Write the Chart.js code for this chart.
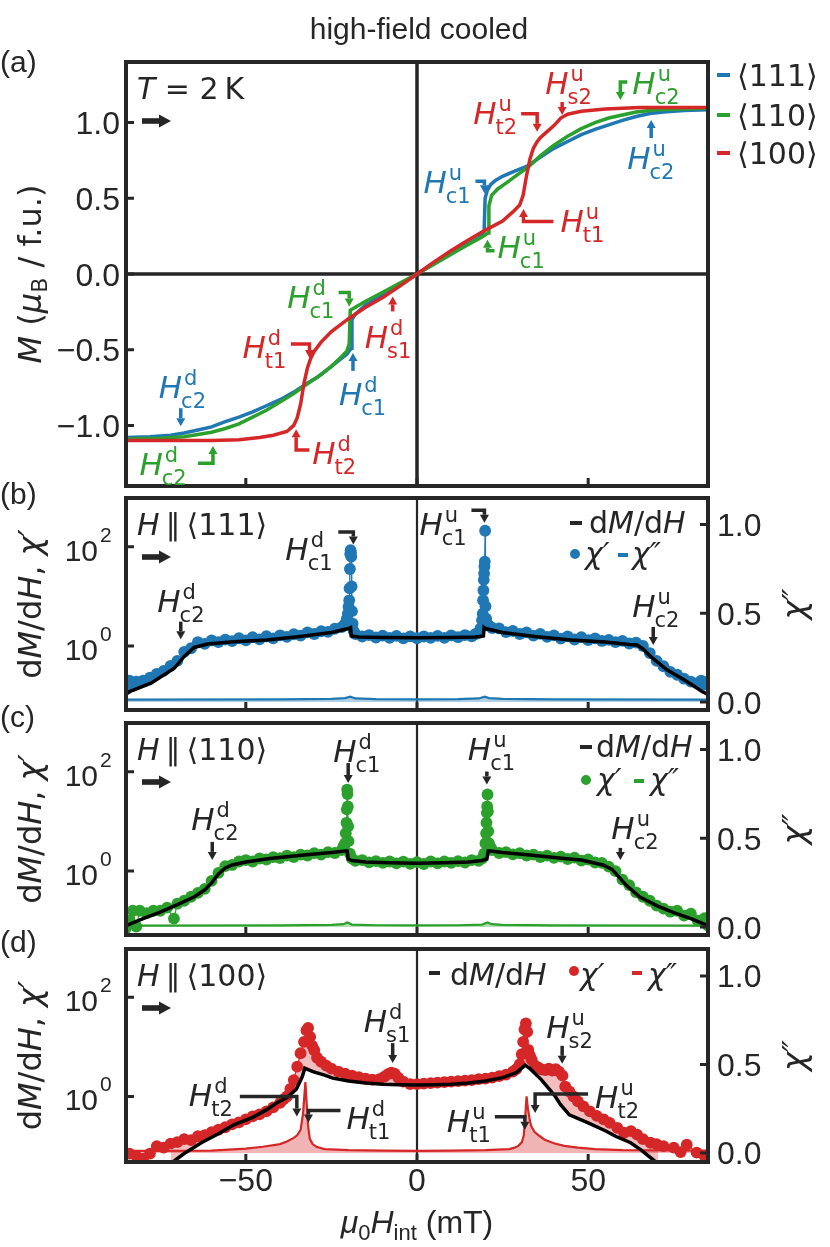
<!DOCTYPE html>
<html>
<head>
<meta charset="utf-8">
<script src="https://cdn.jsdelivr.net/npm/chart.js@4.4.1/dist/chart.umd.min.js"></script>
<style>
  html, body { margin: 0; padding: 0; background: #fff; }
  #fig { position: relative; width: 830px; height: 1247px; overflow: hidden; }
  #fig canvas { position: absolute; left: 0; }
</style>
</head>
<body>
<div id="fig">
  <canvas id="pa" width="830" height="500" style="top:0px"></canvas>
  <canvas id="pb" width="830" height="240" style="top:480px"></canvas>
  <canvas id="pc" width="830" height="240" style="top:705px"></canvas>
  <canvas id="pd" width="830" height="317" style="top:930px"></canvas>
</div>
<script>
// ---------------------------------------------------------------------------
// Data
// ---------------------------------------------------------------------------

// (a) magnetization M (muB / f.u.) vs mu0 H_int (mT)
const hM111 = [-85,-78,-72,-68,-64,-60,-56,-52,-48,-44, -40,-36,-32,-29,-25,-22.8,-20.5,-19.2,-19,-18,
  -15,-10,-5,0,5,10,15,18,19.6,19.9, 20.5,21.5,23,25,28,32,36,40,44,48, 52,56,60,64,68,72,78,85];
const m111 = [-1.08,-1.075,-1.065,-1.05,-1.03,-1.01,-0.975,-0.945,-0.91,-0.87, -0.83,-0.78,-0.72,-0.68,-0.61,-0.57,-0.53,-0.49,-0.30,-0.265,
  -0.205,-0.14,-0.07,0,0.07,0.14,0.2,0.24,0.28,0.50, 0.55,0.59,0.62,0.645,0.675,0.71,0.77,0.83,0.875,0.92, 0.955,0.985,1.015,1.04,1.06,1.07,1.08,1.085];

const hM110 = [-85,-75,-68,-64,-60,-56,-52,-48,-44,-40, -36,-32,-28,-25,-22,-20.5,-19.8,-19.5,-18,-15,
  -10,-5,0,5,10,15,19,20.8,21.0,21.8, 23.5,26,29,32.7,36,40,44,48,52,56, 60,64,70,85];
const m110 = [-1.09,-1.085,-1.075,-1.06,-1.045,-1.02,-0.99,-0.945,-0.9,-0.845, -0.79,-0.725,-0.665,-0.61,-0.545,-0.51,-0.46,-0.24,-0.22,-0.18,
  -0.12,-0.06,0,0.065,0.13,0.195,0.245,0.27,0.45,0.52, 0.56,0.60,0.65,0.71,0.78,0.85,0.91,0.96,1.0,1.03, 1.05,1.07,1.085,1.095];

const hM100 = [-85,-60,-52,-46,-42,-38,-36,-35,-34,-33, -32,-31,-30,-28,-25,-20,-15,-10,-5,0,
  5,10,15,20,25,28,30,31,32,33, 34,35,36,38,40,42,44,48,55,65, 85];
const m100 = [-1.10,-1.10,-1.095,-1.08,-1.065,-1.04,-1.0,-0.95,-0.86,-0.72, -0.62,-0.555,-0.51,-0.45,-0.38,-0.295,-0.22,-0.155,-0.08,0,
  0.08,0.155,0.225,0.29,0.35,0.41,0.455,0.52,0.65,0.76, 0.83,0.87,0.90,0.94,0.98,1.03,1.055,1.075,1.09,1.10, 1.10];

// (b) H || <111>
const hChi111 = [-85,-84,-83,-82,-80,-78,-76,-74,-72,-70, -68,-66,-64,-62,-60,-58,-56,-54,-52,-50,
  -48,-46,-44,-42,-40,-38,-36,-34,-32,-30, -28,-26,-24,-22,-21,-20.5,-20.2,-20,-19.8,-19.7,
  -19.6,-19.5,-19.4,-19.3,-19.2,-19.1,-19,-18.8,-18.5,-18, -16,-14,-12,-10,-8,-6,-4,-2,0,2,
  4,6,8,10,12,14,16,17,18,18.5, 19,19.2,19.3,19.4,19.5,19.6,19.7,19.8,19.9,20,
  20.2,20.5,21,22,24,26,28,30,32,34, 36,38,40,42,44,46,48,50,52,54,
  56,58,60,62,64,66,68,70,72,74, 76,78,80,82,83,84,85];
const chiP111 = [0.132,0.200,0.158,0.191,0.200,0.229,0.275,0.316,0.398,0.501, 0.76,0.90,1.2,1.1,1.29,1.2,1.34,1.25,1.43,1.3,
  1.5,1.36,1.57,1.42,1.64,1.52,1.72,1.62,1.88,1.74, 1.98,1.92,2.22,2.399,2.818,3.548,4.467,6.166,8.318,14.45,
  35.48,70.8,85.1,75.86,63.1,15.85,5.012,2.818,1.995,1.738, 1.55,1.66,1.48,1.62,1.45,1.6,1.42,1.56,1.43,1.55,
  1.46,1.6,1.45,1.63,1.5,1.66,1.56,1.72,1.82,2.239, 3.311,4.467,8.318,13.18,21.38,28.84,39.81,50.12,208.9,6.31,
  3.548,2.818,2.55,2.3,2.25,1.9,2.0,1.74,1.87,1.62, 1.75,1.52,1.63,1.41,1.56,1.35,1.5,1.31,1.42,1.26,
  1.33,1.2,1.27,1.12,1.17,1.0,0.72,0.5,0.39,0.3, 0.263,0.219,0.191,0.178,0.2,0.166,0.191];
const hDer111 = [-85,-84,-77.7,-70.9,-68,-65.1,-61.2,-53.6,-43.9,-34.2, -25,-20,-19.4,-19.2,-17,-10,0,10,17,19.4,
  19.6,20,25,35,45,55,62,64.3,66,68.2, 73,78,83.4,85];
const dMdH111 = [0.11,0.12,0.178,0.355,0.617,0.933,1.096,1.222,1.318,1.549, 1.862,2.239,2.344,1.585,1.514,1.479,1.462,1.479,1.514,1.585,
  2.344,2.239,1.862,1.531,1.318,1.202,1.072,1.047,0.871,0.617, 0.331,0.209,0.12,0.105];
const hLoss111 = [-85,-40,-25,-21,-19.5,-18,-12,0,12,18,19.8,21,25,40,85];
const chiPP111 = [0.014,0.015,0.018,0.022,0.03,0.02,0.016,0.015,0.016,0.02,0.03,0.022,0.018,0.015,0.014];

// (c) H || <110>
const hChi110 = [-85,-84,-83,-82,-81,-79,-77,-75,-73,-71, -70,-68,-66,-64,-62,-60,-58,-56,-54,-52,
  -50,-48,-46,-44,-42,-40,-38,-36,-34,-32, -30,-28,-26,-24,-22,-21.5,-21,-20.8,-20.6,-20.5,
  -20.4,-20.3,-20.2,-20.1,-20,-19.6,-19,-18,-16,-14, -12,-10,-8,-6,-4,-2,0,2,4,6,
  8,10,12,14,16,18,19,19.6,20,20.2, 20.3,20.4,20.5,20.6,20.7,20.8,21,21.5,22,24,
  26,28,30,32,34,36,38,40,42,44, 46,48,50,52,54,56,58,60,62,64,
  66,68,70,72,74,76,78,80,82,84, 85];
const chiP110 = [0.071,0.1,0.158,0.076,0.158,0.141,0.158,0.158,0.182,0.11, 0.219,0.251,0.302,0.363,0.437,0.631,0.912,1.25,1.32,1.55,
  1.66,1.55,1.78,1.7,1.9,1.82,2.04,1.9,2.14,2.05, 2.29,2.14,2.4,2.3,2.63,3.162,3.631,5.754,9.333,17.38,
  43.65,35.48,19.95,7.943,3.981,2.239,1.778,1.6,1.66,1.49, 1.58,1.45,1.55,1.42,1.54,1.39,1.51,1.38,1.55,1.42,
  1.55,1.45,1.58,1.48,1.66,1.6,1.778,2.239,3.631,5.754, 9.333,14.79,19.95,34.67,15.85,6.31,3.631,3.02,2.63,2.3,
  2.4,2.15,2.29,2.05,2.14,1.91,2.04,1.83,1.95,1.74, 1.86,1.62,1.7,1.48,1.45,1.22,0.99,0.67,0.52,0.37,
  0.302,0.251,0.2,0.174,0.151,0.158,0.126,0.138,0.1,0.112, 0.079];
const hDer110 = [-85,-80,-75,-70,-65,-62,-60,-58,-56,-54, -50,-43,-33,-25,-21,-20.4,-20.1,-19,-15,-8,
  0,8,15,19,20.4,20.8,21.5,25,33,43, 48,54.3,57,61,65,70,75,80,85];
const dMdH110 = [0.0794,0.11,0.148,0.209,0.302,0.417,0.575,0.871,1.148,1.318, 1.514,1.778,2.089,2.344,2.512,2.512,1.738,1.622,1.514,1.462,
  1.429,1.462,1.514,1.622,1.738,2.512,2.512,2.344,2.089,1.778, 1.66,1.318,1.072,0.525,0.302,0.2,0.145,0.11,0.0794];
const hLoss110 = [-85,-40,-25,-21.5,-20.3,-19,-12,0,12,19,20.6,21.8,25,40,85];
const chiPP110 = [0.008,0.009,0.012,0.016,0.026,0.014,0.01,0.009,0.01,0.014,0.026,0.016,0.012,0.009,0.008];

// (d) H || <100>
const hChi100 = [-84,-82,-80,-78,-76,-74,-72,-70,-68,-66, -64,-62,-60,-58,-56,-54,-52,-50,-48,-46,
  -44,-42,-40,-39,-38,-37,-36,-35,-34,-33, -32.3,-31.8,-31.2,-30.6,-30,-29.2,-28,-26.5,-25,-23,
  -21,-19,-17,-15,-13,-11,-9.5,-8.5,-7.5,-6.5, -5.5,-4,-2,0,2,4,6,8,10,12,
  14,16,18,20,22,24,26,28,29,30, 30.6,31,31.4,31.8,32.2,32.5,33,33.5,34.5,35.5,
  36.5,37.5,38.5,39.5,40.5,41.5,42.5,43.3,44.5,45.7, 47,48.6,50.5,52.5,54.5,56.3,58.5,60.5,62.5,64.3,
  66,68.2,70,72,75,77,78.8,81.7,84];
const chiP100 = [0.0708,0.0631,0.0562,0.0708,0.1,0.0933,0.112,0.12,0.138,0.132, 0.158,0.166,0.191,0.214,0.24,0.275,0.302,0.347,0.398,0.437,
  0.501,0.603,0.741,0.871,1.0,1.413,2.138,3.981,7.413,12.59, 21.38,23.99,15.85,10.47,8.511,6.026,5.012,4.169,3.631,3.162,
  2.884,2.63,2.455,2.291,2.188,2.239,2.512,2.818,3.02,2.884, 2.399,1.995,1.778,1.778,1.82,1.862,1.905,1.95,1.995,2.042,
  2.089,2.138,2.239,2.291,2.399,2.57,2.754,3.162,3.548,4.467, 7.079,12.59,22.39,29.51,19.95,8.71,6.607,5.495,4.169,3.802,
  3.467,3.388,3.631,3.311,3.548,3.162,2.63,1.585,1.259,1.0, 0.794,0.631,0.501,0.407,0.347,0.295,0.234,0.186,0.2,0.17,
  0.138,0.117,0.11,0.1,0.0933,0.0759,0.107,0.0741,0.0631];
const hDer100 = [-72,-71,-68,-63,-58,-53.5,-48,-44,-41,-38, -35.2,-33.5,-32.8,-30.4,-27,-24.6,-20,-15,-10,-5,
  0,5,10,15,20,25,29,31.6,33,36.3, 39,40.4,42,44.5,50,55,58,62.4,65.5,68.2, 70.5];
const dMdH100 = [0.0437,0.0501,0.0708,0.117,0.178,0.269,0.38,0.537,0.741,0.955, 1.413,2.512,3.715,3.162,2.692,2.344,2.042,1.862,1.758,1.718,
  1.698,1.718,1.758,1.862,2.042,2.399,3.02,4.266,3.631,2.188, 1.318,1.0,0.676,0.427,0.295,0.204,0.158,0.117,0.0832,0.0589, 0.0437];
const hLoss100 = [-85,-60,-50,-45,-40,-38,-36,-35,-34,-33.3, -32.6,-32.2,-31.8,-31.3,-30.5,-29.4,-27,-20,-10,0,
  10,20,27,28.5,29.6,30.6,31.2,31.6,32,32.4, 33,33.4,34.3,35.5,37.3,40,43,47,52,60, 85];
const chiPP100 = [0.012,0.013,0.025,0.035,0.05,0.065,0.085,0.1,0.13,0.22, 0.40,0.27,0.15,0.08,0.05,0.035,0.022,0.016,0.013,0.012,
  0.013,0.016,0.022,0.03,0.04,0.06,0.10,0.20,0.32,0.25, 0.18,0.15,0.12,0.10,0.075,0.055,0.04,0.03,0.022,0.016, 0.013];

// tick values and labels
const hTicks = [-50, 0, 50];
const hTickLabels = ['\u221250', '0', '50'];
const mTicks = [-1, -0.5, 0, 0.5, 1];
const mTickLabels = ['\u22121.0', '\u22120.5', '0.0', '0.5', '1.0'];
const logTicks = [1, 100];
const logTickExp = ['0', '2'];
const chiTicks = [0, 0.5, 1];
const chiTickLabels = ['0.0', '0.5', '1.0'];

// ---------------------------------------------------------------------------
// Styles
// ---------------------------------------------------------------------------
const INK = '#262626';
const BLUE = '#1f77b4', GREEN = '#2ca02c', RED = '#d62728';
const SANS = '"Liberation Sans", Arial, Helvetica, sans-serif';
const MATH = '"DejaVu Sans", "Noto Sans", sans-serif';

function pts(xs, ys) { return xs.map((x, i) => ({ x: x, y: ys[i] })); }
function fnt(size, italic, fam) { return (italic ? 'italic ' : '') + size + 'px ' + fam; }

function runWidth(ctx, r, base) {
  ctx.font = fnt(r.s || base.s, r.i, r.f || base.f);
  return ctx.measureText(r.t).width;
}
function drawRuns(ctx, runs, x, y, opt) {
  const base = { s: opt.s || 30, f: opt.f || MATH };
  let w = 0;
  runs.forEach(r => { w += runWidth(ctx, r, base); });
  let cx = opt.align === 'center' ? x - w / 2 : (opt.align === 'right' ? x - w : x);
  ctx.textAlign = 'left';
  ctx.textBaseline = 'alphabetic';
  runs.forEach(r => {
    const rw = runWidth(ctx, r, base);
    ctx.fillText(r.t, cx, y + (r.dy || 0));
    cx += rw;
  });
}
function drawRotated(ctx, runs, x, y, opt) {
  ctx.save();
  ctx.translate(x, y);
  ctx.rotate(-Math.PI / 2);
  drawRuns(ctx, runs, 0, 0, Object.assign({}, opt, { align: 'center' }));
  ctx.restore();
}
function hLabel(ctx, x, y, sup, sub, color) {
  ctx.fillStyle = color;
  ctx.textAlign = 'left';
  ctx.textBaseline = 'alphabetic';
  ctx.font = fnt(31, true, MATH);
  ctx.fillText('H', x, y);
  const w = ctx.measureText('H').width;
  ctx.font = fnt(21, false, MATH);
  ctx.fillText(sup, x + w + 2, y - 13);
  ctx.fillText(sub, x + w - 1, y + 10);
}
function arrowPath(ctx, path, color) {
  const n = path.length;
  const tx = path[n - 1][0], ty = path[n - 1][1];
  const ang = Math.atan2(ty - path[n - 2][1], tx - path[n - 2][0]);
  const hl = 8, hw = 4.5;
  const bx = tx - hl * Math.cos(ang), by = ty - hl * Math.sin(ang);
  ctx.strokeStyle = color;
  ctx.fillStyle = color;
  ctx.lineWidth = 3.5;
  ctx.lineJoin = 'miter';
  ctx.lineCap = 'butt';
  ctx.beginPath();
  ctx.moveTo(path[0][0], path[0][1]);
  for (let i = 1; i < n - 1; i++) ctx.lineTo(path[i][0], path[i][1]);
  ctx.lineTo(bx, by);
  ctx.stroke();
  ctx.beginPath();
  ctx.moveTo(tx, ty);
  ctx.lineTo(bx + hw * Math.sin(ang), by - hw * Math.cos(ang));
  ctx.lineTo(bx - hw * Math.sin(ang), by + hw * Math.cos(ang));
  ctx.closePath();
  ctx.fill();
}
function fatArrow(ctx, x, y) {
  ctx.fillStyle = INK;
  ctx.fillRect(x, y - 2.8, 19, 5.6);
  ctx.beginPath();
  ctx.moveTo(x + 17, y - 6.5);
  ctx.lineTo(x + 29, y);
  ctx.lineTo(x + 17, y + 6.5);
  ctx.closePath();
  ctx.fill();
}

// text pieces
const DMDH = [{ t: 'd' }, { t: 'M', i: 1 }, { t: '/d' }, { t: 'H', i: 1 }];
const CHI1 = [{ t: '\u03c7\u2032', i: 1 }];
const CHI2 = [{ t: '\u03c7\u2033', i: 1 }];
const TITLE_DER = [{ t: 'd' }, { t: 'M', i: 1 }, { t: '/d' }, { t: 'H', i: 1 }, { t: ', ' }, { t: '\u03c7\u2032', i: 1 }];

// annotations: tip in data units, arrow and label offsets in pixels
const notesA = [
  { x: 42.4, y: 1.05, sup: 'u', sub: 's2', c: RED, up: false, len: 13, bar: 0, lx: -17, ly: -21 },
  { x: 59.4, y: 1.149, sup: 'u', sub: 'c2', c: GREEN, up: false, len: 18, bar: 7, lx: 12, ly: -6 },
  { x: 35.1, y: 0.94, sup: 'u', sub: 't2', c: RED, up: false, len: 18, bar: -16, lx: -64, ly: -8 },
  { x: 68.4, y: 1.017, sup: 'u', sub: 'c2', c: BLUE, up: true, len: 18, bar: 0, lx: -24, ly: 49 },
  { x: 19.7, y: 0.534, sup: 'u', sub: 'c1', c: BLUE, up: false, len: 12, bar: -9, lx: -61, ly: 0 },
  { x: 31.1, y: 0.43, sup: 'u', sub: 't1', c: RED, up: true, len: 12.5, bar: 30, lx: 37, ly: 23.5 },
  { x: 20.6, y: 0.226, sup: 'u', sub: 'c1', c: GREEN, up: true, len: 11, bar: 7, lx: 10, ly: 18.5 },
  { x: -19.8, y: -0.214, sup: 'd', sub: 'c1', c: GREEN, up: false, len: 14, bar: -10.6, lx: -62, ly: 2 },
  { x: -7.1, y: -0.148, sup: 'd', sub: 's1', c: RED, up: true, len: 15, bar: 0, lx: -28, ly: 52 },
  { x: -31.4, y: -0.554, sup: 'd', sub: 't1', c: RED, up: false, len: 14, bar: -18.6, lx: -67, ly: 0 },
  { x: -18.7, y: -0.521, sup: 'd', sub: 'c1', c: BLUE, up: true, len: 18, bar: 0, lx: -14, ly: 52 },
  { x: -69.0, y: -1.005, sup: 'd', sub: 'c2', c: BLUE, up: false, len: 18, bar: 0, lx: -22, ly: -28 },
  { x: -35.3, y: -1.026, sup: 'd', sub: 't2', c: RED, up: true, len: 20.7, bar: 13.3, lx: 16, ly: 35 },
  { x: -59.6, y: -1.136, sup: 'd', sub: 'c2', c: GREEN, up: true, len: 17.3, bar: -15, lx: -73.5, ly: 28.6 }
];
const notesB = [
  { x: -18.6, y: 110, sup: 'd', sub: 'c1', c: INK, up: false, len: 12.7, bar: -15, lx: -68, ly: 15 },
  { x: 19.7, y: 302, sup: 'u', sub: 'c1', c: INK, up: false, len: 12.6, bar: -13, lx: -65, ly: 12 },
  { x: -69.0, y: 1.365, sup: 'd', sub: 'c2', c: INK, up: false, len: 17.6, bar: 0, lx: -23.5, ly: -27 },
  { x: 69.0, y: 1.047, sup: 'u', sub: 'c2', c: INK, up: false, len: 18, bar: 0, lx: -21, ly: -28 }
];
const notesC = [
  { x: -20.1, y: 59, sup: 'd', sub: 'c1', c: INK, up: false, len: 20, bar: 0, lx: -15, ly: -21 },
  { x: 20.4, y: 55, sup: 'u', sub: 'c1', c: INK, up: false, len: 13, bar: 0, lx: -19, ly: -25 },
  { x: -59.8, y: 1.67, sup: 'd', sub: 'c2', c: INK, up: false, len: 18, bar: 0, lx: -21, ly: -30 },
  { x: 59.4, y: 1.67, sup: 'u', sub: 'c2', c: INK, up: false, len: 12, bar: 0, lx: -9, ly: -21 }
];
const notesD = [
  { x: -7.1, y: 4.7, sup: 'd', sub: 's1', c: INK, up: false, len: 20, bar: 0, lx: -29, ly: -31 },
  { x: -35.1, y: 0.397, sup: 'd', sub: 't2', c: INK, up: false, len: 20, bar: -57, lx: -108, ly: -10 },
  { x: -31.7, y: 0.30, sup: 'd', sub: 't1', c: INK, up: false, len: 12, bar: 32, lx: 38, ly: 7 },
  { x: 42.4, y: 4.55, sup: 'u', sub: 's2', c: INK, up: false, len: 18, bar: 0, lx: -16, ly: -26 },
  { x: 34.5, y: 0.463, sup: 'u', sub: 't2', c: INK, up: false, len: 19, bar: 53, lx: 60, ly: -5 },
  { x: 31.5, y: 0.214, sup: 'u', sub: 't1', c: INK, up: false, len: 13, bar: -30, lx: -78, ly: 2 }
];

// legends, placed relative to the right / top edge of each frame
const legA = [
  { k: 'dash', x1: 9, x2: 22, y: 13, c: BLUE }, { k: 'text', x: 29, y: 24, runs: [{ t: '\u27e8111\u27e9' }] },
  { k: 'dash', x1: 9, x2: 22, y: 53, c: GREEN }, { k: 'text', x: 29, y: 64, runs: [{ t: '\u27e8110\u27e9' }] },
  { k: 'dash', x1: 9, x2: 22, y: 91, c: RED }, { k: 'text', x: 29, y: 102, runs: [{ t: '\u27e8100\u27e9' }] }
];
function legTwoRows(c, r) {
  return [
    { k: 'dash', x1: r[0], x2: r[0] + 12, y: r[1], c: INK }, { k: 'text', x: r[2], y: r[3], runs: DMDH },
    { k: 'dot', x: r[4], y: r[5], c: c }, { k: 'text', x: r[6], y: r[7], runs: CHI1 },
    { k: 'dash', x1: r[8], x2: r[8] + 10, y: r[9], c: c }, { k: 'text', x: r[10], y: r[7], runs: CHI2 }
  ];
}
const legB = legTwoRows(BLUE, [-138, 25, -119, 35, -133, 56, -123, 66, -90, 57, -76]);
const legC = legTwoRows(GREEN, [-128, 24, -112, 34, -122, 57, -111, 67, -74, 58, -58]);
const legD = [
  { k: 'dash', x1: -279, x2: -268, y: 24, c: INK }, { k: 'text', x: -258, y: 36, runs: DMDH },
  { k: 'dot', x: -134, y: 22, c: RED }, { k: 'text', x: -128, y: 36, runs: CHI1 },
  { k: 'dash', x1: -76, x2: -66, y: 24, c: RED }, { k: 'text', x: -60, y: 36, runs: CHI2 }
];

function introFor(dir) {
  return [{ t: 'H', i: 1 }, { t: '\u2009\u2225' }, { t: '\u2009\u27e8' + dir + '\u27e9' }];
}

const panelCfg = {
  pa: { label: '(a)', labelY: 72, head: true, zeroW: 3.5, hZero: true, log: false,
        intro: [{ t: 'T', i: 1 }, { t: ' = 2\u2009K' }], notes: notesA, legend: legA,
        leftTitle: [{ t: 'M', i: 1 }, { t: ' (' }, { t: '\u03bc', i: 1 }, { t: 'B', s: 22, dy: 6 }, { t: ' / f.u.)' }] },
  pb: { label: '(b)', labelY: 24, zeroW: 2.2, log: true, right: true,
        intro: introFor('111'), notes: notesB, legend: legB, leftTitle: TITLE_DER },
  pc: { label: '(c)', labelY: 22, zeroW: 2.2, log: true, right: true,
        intro: introFor('110'), notes: notesC, legend: legC, leftTitle: TITLE_DER },
  pd: { label: '(d)', labelY: 22, zeroW: 2.2, log: true, right: true, xLabels: true,
        intro: introFor('100'), notes: notesD, legend: legD, leftTitle: TITLE_DER }
};

// ---------------------------------------------------------------------------
// Frame, ticks, texts and arrows drawn around the library's scales
// ---------------------------------------------------------------------------
const decoPlugin = {
  id: 'deco',
  beforeDatasetsDraw(chart) {
    const o = panelCfg[chart.canvas.id];
    const { ctx, chartArea: a, scales } = chart;
    ctx.save();
    ctx.strokeStyle = INK;
    ctx.lineWidth = o.zeroW;
    const x0 = scales.x.getPixelForValue(0);
    ctx.beginPath();
    ctx.moveTo(x0, a.top);
    ctx.lineTo(x0, a.bottom);
    if (o.hZero) {
      const y0 = scales.y.getPixelForValue(0);
      ctx.moveTo(a.left, y0);
      ctx.lineTo(a.right, y0);
    }
    ctx.stroke();
    ctx.restore();
  },
  afterDatasetsDraw(chart) {
    const o = panelCfg[chart.canvas.id];
    const { ctx, chartArea: a, scales } = chart;
    const sx = scales.x, sy = scales.y, sy2 = scales.y2;
    ctx.save();

    // frame
    ctx.strokeStyle = INK;
    ctx.lineWidth = 4;
    ctx.strokeRect(a.left, a.top, a.right - a.left, a.bottom - a.top);

    // inward ticks
    ctx.lineWidth = 3;
    ctx.beginPath();
    hTicks.forEach(v => { const p = sx.getPixelForValue(v); ctx.moveTo(p, a.bottom); ctx.lineTo(p, a.bottom - 8); });
    (o.log ? logTicks : mTicks).forEach(v => { const p = sy.getPixelForValue(v); ctx.moveTo(a.left, p); ctx.lineTo(a.left + 8, p); });
    if (sy2) chiTicks.forEach(v => { const p = sy2.getPixelForValue(v); ctx.moveTo(a.right, p); ctx.lineTo(a.right - 8, p); });
    ctx.stroke();

    // tick labels
    ctx.fillStyle = INK;
    if (o.log) {
      logTicks.forEach((v, i) => {
        const p = sy.getPixelForValue(v);
        drawRuns(ctx, [{ t: '10' }], a.left - 28, p + 14, { s: 30, f: SANS, align: 'right' });
        drawRuns(ctx, [{ t: logTickExp[i] }], a.left - 26, p - 5, { s: 21, f: SANS });
      });
    } else {
      mTicks.forEach((v, i) => {
        drawRuns(ctx, [{ t: mTickLabels[i] }], a.left - 6, sy.getPixelForValue(v) + 11.5, { s: 32, f: SANS, align: 'right' });
      });
    }
    if (sy2) {
      chiTicks.forEach((v, i) => {
        drawRuns(ctx, [{ t: chiTickLabels[i] }], a.right + 9, sy2.getPixelForValue(v) + 11.5, { s: 32, f: SANS });
      });
      drawRotated(ctx, CHI2, a.right + 97, (a.top + a.bottom) / 2, { s: 32, f: MATH });
    }
    if (o.xLabels) {
      hTicks.forEach((v, i) => {
        drawRuns(ctx, [{ t: hTickLabels[i] }], sx.getPixelForValue(v), a.bottom + 29, { s: 32, f: SANS, align: 'center' });
      });
      drawRuns(ctx, [{ t: '\u03bc', i: 1 }, { t: '0', s: 22, dy: 7 }, { t: 'H', i: 1 }, { t: 'int', s: 22, dy: 7 }, { t: ' (mT)' }],
        (a.left + a.right) / 2, a.bottom + 71, { s: 32, f: SANS, align: 'center' });
    }

    // axis title, panel label, header
    drawRotated(ctx, o.leftTitle, a.left - 85, (a.top + a.bottom) / 2, { s: 32, f: MATH });
    drawRuns(ctx, [{ t: o.label }], 0, o.labelY, { s: 30, f: SANS });
    if (o.head) drawRuns(ctx, [{ t: 'high-field cooled' }], (a.left + a.right) / 2 + 2, 39, { s: 30, f: SANS, align: 'center' });

    // condition text and sweep arrow
    drawRuns(ctx, o.intro, a.left + 11, a.top + 37, { s: 30, f: MATH });
    fatArrow(ctx, a.left + 16, a.top + 59);

    // legend
    o.legend.forEach(e => {
      if (e.k === 'dash') {
        ctx.strokeStyle = e.c; ctx.lineWidth = 4; ctx.lineCap = 'butt';
        ctx.beginPath(); ctx.moveTo(a.right + e.x1, a.top + e.y); ctx.lineTo(a.right + e.x2, a.top + e.y); ctx.stroke();
      } else if (e.k === 'dot') {
        ctx.fillStyle = e.c;
        ctx.beginPath(); ctx.arc(a.right + e.x, a.top + e.y, 5, 0, Math.PI * 2); ctx.fill();
      } else {
        ctx.fillStyle = INK;
        drawRuns(ctx, e.runs, a.right + e.x, a.top + e.y, { s: 30, f: MATH });
      }
    });

    // critical-field arrows
    o.notes.forEach(n => {
      const tx = sx.getPixelForValue(n.x), ty = sy.getPixelForValue(n.y);
      const vy = n.up ? ty + n.len : ty - n.len;
      const path = n.bar ? [[tx + n.bar, vy], [tx, vy], [tx, ty]] : [[tx, vy], [tx, ty]];
      arrowPath(ctx, path, n.c);
      hLabel(ctx, tx + n.lx, ty + n.ly, n.sup, n.sub, n.c);
    });
    ctx.restore();
  }
};

// ---------------------------------------------------------------------------
// Charts
// ---------------------------------------------------------------------------
function hidden(extra) {
  return Object.assign({ ticks: { display: false }, grid: { display: false }, border: { display: false } }, extra);
}
function baseOptions(padTop, padRight, scales) {
  return {
    responsive: false,
    animation: false,
    events: [],
    layout: { padding: { top: padTop, right: padRight, left: 0, bottom: 0 } },
    plugins: { legend: { display: false }, tooltip: { enabled: false } },
    scales: scales
  };
}
function xScale(h) {
  return hidden({ type: 'linear', position: 'bottom', min: -85, max: 85, afterFit: s => { s.height = h; } });
}

new Chart(document.getElementById('pa'), {
  type: 'scatter',
  data: {
    datasets: [
      { data: pts(hM100, m100), borderColor: RED, borderWidth: 3.5, showLine: true, pointRadius: 0, fill: false },
      { data: pts(hM110, m110), borderColor: GREEN, borderWidth: 3.5, showLine: true, pointRadius: 0, fill: false },
      { data: pts(hM111, m111), borderColor: BLUE, borderWidth: 3.5, showLine: true, pointRadius: 0, fill: false }
    ]
  },
  options: baseOptions(62, 122, {
    x: xScale(14),
    y: hidden({ type: 'linear', position: 'left', min: -1.4, max: 1.4, afterFit: s => { s.width = 126; } })
  }),
  plugins: [decoPlugin]
});

function suscChart(id, color, fillColor, chiFill, hDer, der, hChi, chi, hLoss, loss, xh, padTop, logMin, logMax, rMin, rMax) {
  new Chart(document.getElementById(id), {
    type: 'scatter',
    data: {
      datasets: [
        { data: pts(hDer, der), yAxisID: 'y', borderColor: '#000', borderWidth: 3.5, showLine: true, pointRadius: 0, fill: false },
        { data: pts(hChi, chi), yAxisID: 'y', borderColor: color, borderWidth: 1.2, showLine: true,
          pointRadius: 5.9, pointBackgroundColor: color, pointBorderWidth: 0,
          fill: chiFill ? { target: 0, above: chiFill, below: 'rgba(0,0,0,0)' } : false },
        { data: pts(hLoss, loss), yAxisID: 'y2', borderColor: color, borderWidth: 2.2, showLine: true, pointRadius: 0,
          fill: 'origin', backgroundColor: fillColor }
      ]
    },
    options: baseOptions(padTop, 0, {
      x: xScale(xh),
      y: hidden({ type: 'logarithmic', position: 'left', min: logMin, max: logMax, afterFit: s => { s.width = 126; } }),
      y2: hidden({ type: 'linear', position: 'right', min: rMin, max: rMax, afterFit: s => { s.width = 122; } })
    }),
    plugins: [decoPlugin]
  });
}

suscChart('pb', BLUE, 'rgba(31,119,180,0.35)', null, hDer111, dMdH111, hChi111, chiP111, hLoss111, chiPP111, 10, 18, 0.0513, 955, -0.045, 1.15);
suscChart('pc', GREEN, 'rgba(44,160,44,0.35)', null, hDer110, dMdH110, hChi110, chiP110, hLoss110, chiPP110, 10, 18, 0.0513, 955, -0.045, 1.15);
suscChart('pd', RED, 'rgba(214,39,40,0.35)', 'rgba(214,39,40,0.3)', hDer100, dMdH100, hChi100, chiP100, hLoss100, chiPP100, 85, 19, 0.0479, 933, -0.051, 1.152);
</script>
</body>
</html>
